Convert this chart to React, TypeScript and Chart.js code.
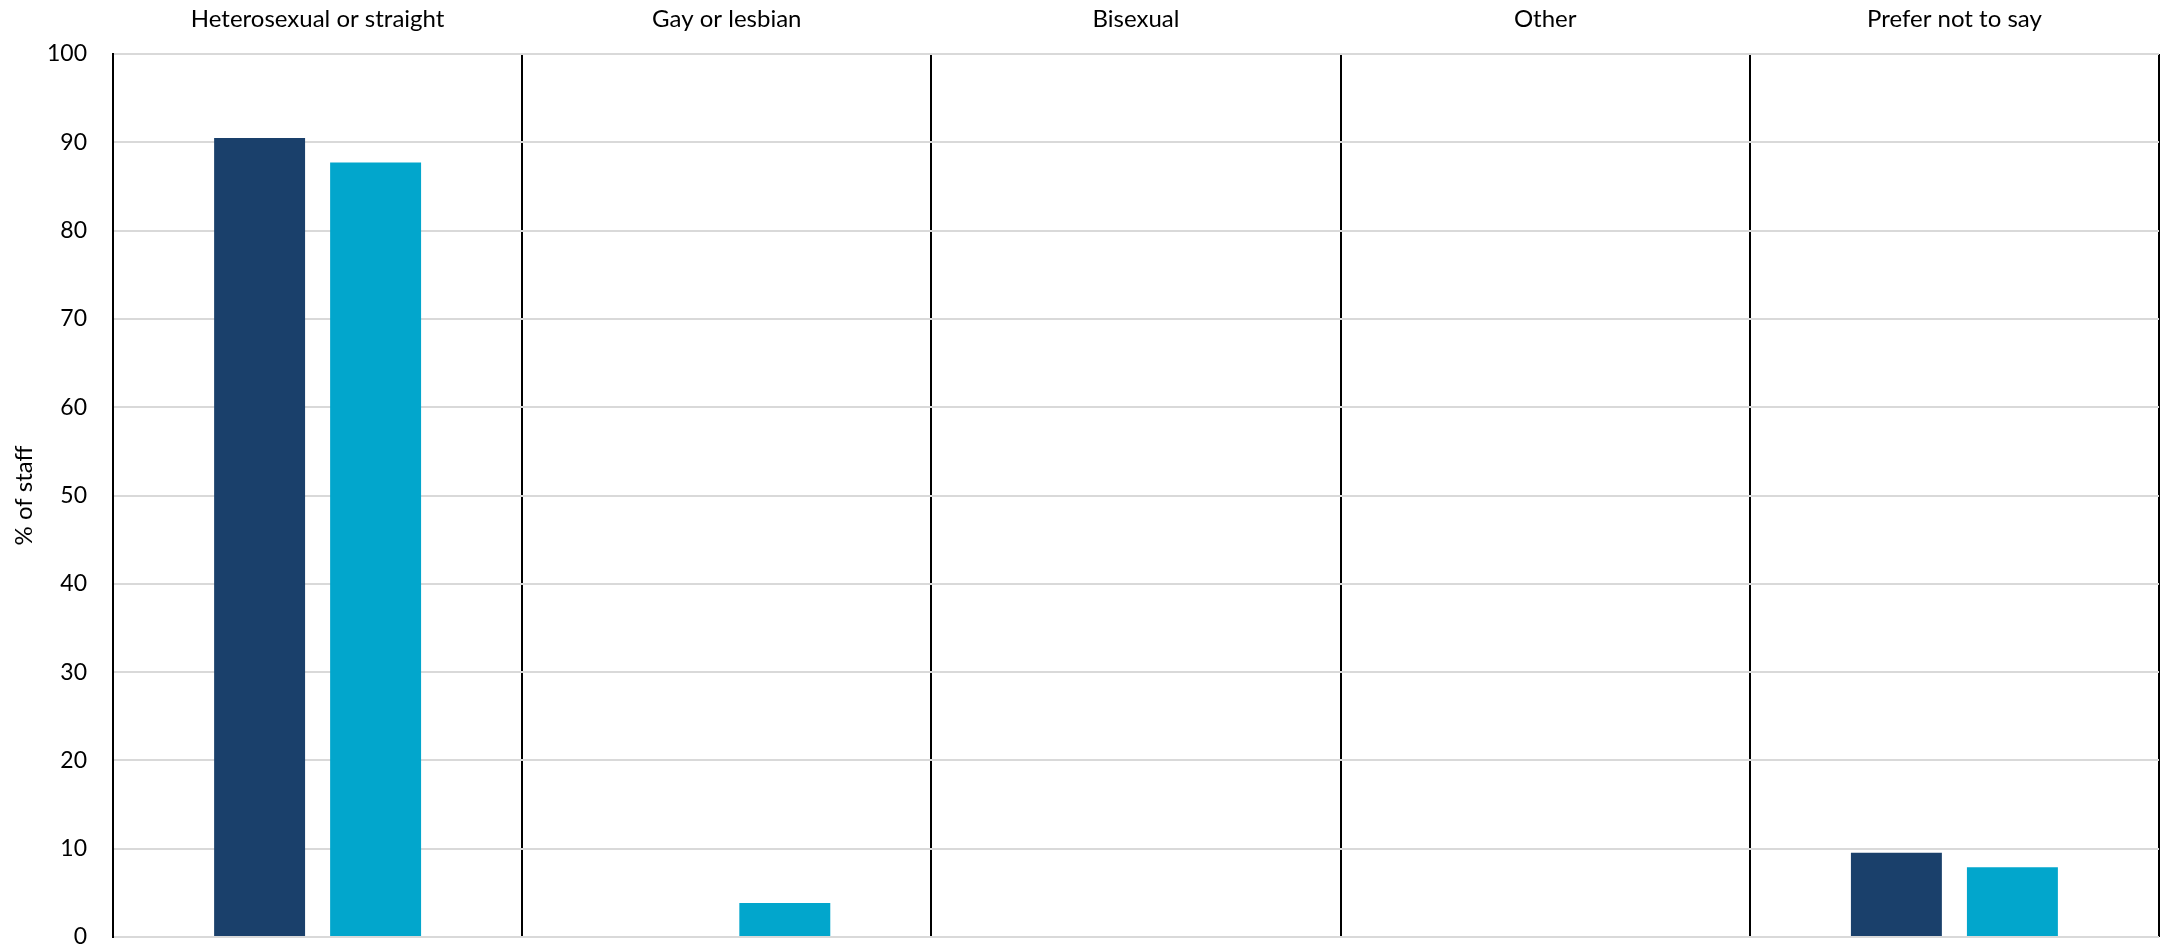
import React, { useEffect, useRef } from "react";
import { Chart, registerables } from "chart.js";

Chart.register(...registerables);

const categories = ["Heterosexual or straight", "Gay or lesbian", "Bisexual", "Other", "Prefer not to say"];
const seriesA = [90.5, 0, 0, 0, 9.55];
const seriesB = [87.7, 3.85, 0, 0, 7.9];
const seriesNames = ["Series 1", "Series 2"];
const yTicks = [0, 10, 20, 30, 40, 50, 60, 70, 80, 90, 100];

const W = 2167;
const H = 948;

export default function App() {
  const ref = useRef<HTMLCanvasElement | null>(null);

  useEffect(() => {
    if (!ref.current) return;
    const font = "Lato, 'Liberation Sans', sans-serif";
    const chart = new Chart(ref.current, {
      type: "bar",
      data: {
        labels: categories,
        datasets: [
          {
            label: seriesNames[0],
            data: seriesA,
            backgroundColor: "#1A406B",
            borderWidth: 0,
            categoryPercentage: 0.567,
            barPercentage: 0.784,
          },
          {
            label: seriesNames[1],
            data: seriesB,
            backgroundColor: "#02A6CC",
            borderWidth: 0,
            categoryPercentage: 0.567,
            barPercentage: 0.784,
          },
        ],
      },
      options: {
        animation: false,
        responsive: false,
        maintainAspectRatio: false,
        layout: { padding: { left: 0, right: 8, top: 0, bottom: 11 } },
        plugins: {
          legend: { display: false },
          tooltip: { enabled: false },
          title: { display: false },
        },
        scales: {
          x: {
            position: "top",
            offset: true,
            border: { display: false },
            grid: {
              offset: true,
              color: "#000000",
              lineWidth: 2,
              drawTicks: false,
            },
            ticks: {
              color: "#000000",
              padding: 20,
              maxRotation: 0,
              autoSkip: false,
              font: { family: font, size: 24 },
            },
            afterFit: (scale: any) => {
              scale.height = 54;
              scale.paddingLeft = 0;
              scale.paddingRight = 0;
            },
          },
          y: {
            min: 0,
            max: 100,
            afterBuildTicks: (scale: any) => {
              scale.ticks = yTicks.map((v) => ({ value: v }));
            },
            border: { display: true, color: "#000000", width: 2 },
            grid: {
              color: "#D9D9D9",
              lineWidth: 2,
              drawTicks: false,
            },
            ticks: {
              color: "#000000",
              padding: 26,
              font: { family: font, size: 23 },
            },
            title: {
              display: true,
              text: "% of staff",
              color: "#000000",
              padding: { top: 10, bottom: 0 },
              font: { family: font, size: 24 },
            },
            afterFit: (scale: any) => {
              scale.width = 113;
              scale.paddingTop = 0;
              scale.paddingBottom = 0;
            },
          },
        },
      },
    });
    return () => chart.destroy();
  }, []);

  return (
    <div style={{ position: "absolute", left: 0, top: 0, width: W, height: H, background: "#fff" }}>
      <canvas ref={ref} width={W} height={H} style={{ width: W, height: H, display: "block" }} />
    </div>
  );
}
